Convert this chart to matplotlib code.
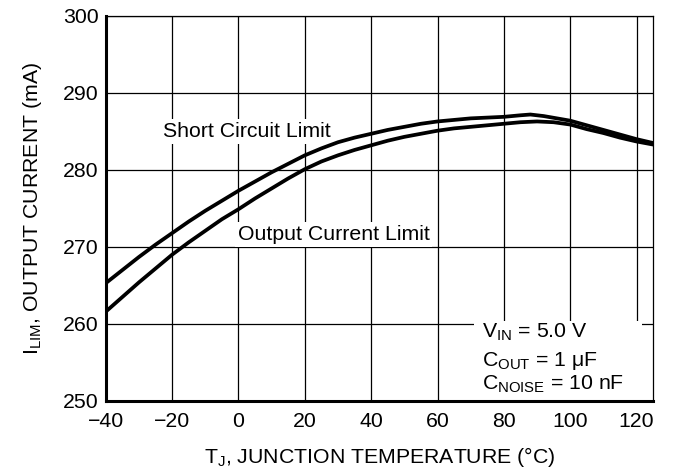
import numpy as np
import matplotlib
matplotlib.use('Agg')
import matplotlib.pyplot as plt
from matplotlib.patches import Rectangle

plt.rcParams['font.family'] = ['Liberation Sans', 'DejaVu Sans']
plt.rcParams['mathtext.fontset'] = 'custom'
plt.rcParams['mathtext.rm'] = 'Liberation Sans'
plt.rcParams['mathtext.it'] = 'Liberation Sans'

# Данные
temp_short = [-40, -35, -30, -25, -20, -15, -10, -5, 0, 5, 10, 15, 20, 25, 30, 35, 40, 45,
              50, 55, 60, 65, 70, 75, 80, 85, 88, 92, 96, 100, 105, 110, 115, 120, 125]
i_short = [265.3, 267.0, 268.7, 270.3, 271.8, 273.3, 274.7, 276.0, 277.3, 278.5, 279.7,
           280.8, 281.9, 282.8, 283.6, 284.2, 284.7, 285.2, 285.6, 286.0, 286.3, 286.5,
           286.7, 286.8, 286.9, 287.1, 287.2, 287.0, 286.7, 286.4, 285.8, 285.2, 284.6,
           284.0, 283.5]

temp_out = [-40, -35, -30, -25, -20, -15, -10, -5, 0, 5, 10, 15, 20, 25, 30, 35, 40, 45,
            50, 55, 60, 65, 70, 75, 80, 85, 90, 95, 100, 105, 110, 115, 120, 125]
i_out = [261.6, 263.5, 265.4, 267.2, 269.0, 270.6, 272.1, 273.6, 274.9, 276.3, 277.6,
         278.9, 280.1, 281.1, 281.9, 282.6, 283.2, 283.8, 284.3, 284.7, 285.1, 285.4,
         285.6, 285.8, 286.0, 286.2, 286.3, 286.2, 285.9, 285.3, 284.8, 284.2, 283.7,
         283.3]

x_ticks = [-40, -20, 0, 20, 40, 60, 80, 100, 120]
x_labels = ['\u221240', '\u221220', '0', '20', '40', '60', '80', '100', '120']
y_ticks = [250, 260, 270, 280, 290, 300]

fs = 15.3

fig = plt.figure(figsize=(6.74, 4.70), dpi=100)
ax = fig.add_axes([0.157, 0.147, 0.812, 0.819])

ax.plot(temp_short, i_short, color='black', linewidth=2.7, zorder=4)
ax.plot(temp_out, i_out, color='black', linewidth=2.7, zorder=4)

ax.set_xlim(-40, 125)
ax.set_ylim(250, 300)
ax.set_xticks(x_ticks)
ax.set_xticklabels(x_labels)
ax.set_yticks(y_ticks)
ax.tick_params(length=0, labelsize=fs, pad=5)
ax.tick_params(axis='x', pad=8)
ax.grid(True, color='black', linewidth=0.9, zorder=1)
ax.set_axisbelow(True)

for side in ['left', 'bottom']:
    ax.spines[side].set_linewidth(2.2)
for side in ['top', 'right']:
    ax.spines[side].set_linewidth(0.9)

bbox = dict(facecolor='white', edgecolor='none', pad=2)
ax.text(-22.9, 284.3, 'Short Circuit Limit', fontsize=fs, va='baseline', ha='left',
        bbox=bbox, zorder=3)
ax.text(-0.2, 270.9, 'Output Current Limit', fontsize=fs, va='baseline', ha='left',
        bbox=bbox, zorder=3)

# Белая подложка под условия измерения
ax.add_patch(Rectangle((71, 250), 50.6, 10.4, facecolor='white', edgecolor='none', zorder=2))
ax.text(73.5, 258.2, r'V$_{\mathrm{IN}}$ = 5.0 V', fontsize=fs, va='baseline', zorder=3)
ax.text(73.5, 254.5, 'C$_{\\mathrm{OUT}}$ = 1 \u03bcF', fontsize=fs, va='baseline', zorder=3)
ax.text(73.5, 251.4, r'C$_{\mathrm{NOISE}}$ = 10 nF', fontsize=fs, va='baseline', zorder=3)

ax.set_xlabel('T$_{\\mathrm{J}}$, JUNCTION TEMPERATURE (\u00b0C)', fontsize=fs, labelpad=10)
ax.set_ylabel(r'I$_{\mathrm{LIM}}$, OUTPUT CURRENT (mA)', fontsize=fs, labelpad=14)

fig.savefig('out.png', dpi=100)
